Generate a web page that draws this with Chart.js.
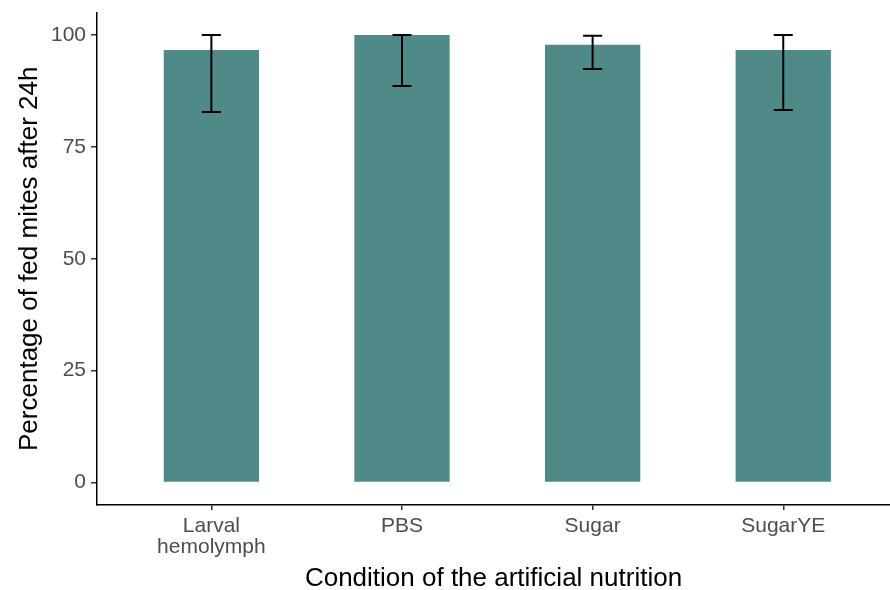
<!DOCTYPE html>
<html>
<head>
<meta charset="utf-8">
<script src="https://cdn.jsdelivr.net/npm/chart.js@4"></script>
<style>
  html, body { margin: 0; padding: 0; background: #ffffff; }
  #wrap { width: 890px; height: 590px; position: relative; }
</style>
</head>
<body>
<div id="wrap"><canvas id="c" width="890" height="590"></canvas></div>
<script>
// ---- data ----
const categories = ['Larval hemolymph', 'PBS', 'Sugar', 'SugarYE'];
const tickLabels = [['Larval', 'hemolymph'], 'PBS', 'Sugar', 'SugarYE'];
const values = [96.6, 100, 97.8, 96.6];
const errLow = [82.8, 88.6, 92.4, 83.2];
const errHigh = [100, 100, 99.8, 100];
const yTicks = [0, 25, 50, 75, 100];
const yTitle = 'Percentage of fed mites after 24h';
const xTitle = 'Condition of the artificial nutrition';

const FONT = "'Liberation Sans', Arial, sans-serif";
const barColor = '#508A88';

const errorBarPlugin = {
  id: 'errorBars',
  afterDatasetsDraw(chart) {
    const { ctx, scales: { x, y } } = chart;
    ctx.save();
    ctx.strokeStyle = '#000000';
    ctx.lineWidth = 2;
    ctx.lineCap = 'butt';
    categories.forEach((c, i) => {
      const cx = x.getPixelForValue(i + 1);
      const half = Math.abs(x.getPixelForValue(i + 1.05) - cx);
      const yl = y.getPixelForValue(errLow[i]);
      const yh = y.getPixelForValue(errHigh[i]);
      ctx.beginPath();
      ctx.moveTo(cx, yl); ctx.lineTo(cx, yh);
      ctx.moveTo(cx - half, yl); ctx.lineTo(cx + half, yl);
      ctx.moveTo(cx - half, yh); ctx.lineTo(cx + half, yh);
      ctx.stroke();
    });
    ctx.restore();
  }
};

new Chart(document.getElementById('c'), {
  type: 'bar',
  data: {
    datasets: [{
      data: values.map((v, i) => ({ x: i + 1, y: v })),
      backgroundColor: barColor,
      borderWidth: 0,
      barPercentage: 0.5,
      categoryPercentage: 1.0
    }]
  },
  options: {
    responsive: false,
    animation: false,
    devicePixelRatio: 1,
    layout: { padding: { top: 12.5, right: 0, bottom: 0, left: 0 } },
    plugins: { legend: { display: false }, tooltip: { enabled: false } },
    scales: {
      x: {
        type: 'linear',
        offset: false,
        min: 0.4,
        max: 4.56,
        afterBuildTicks(scale) { scale.ticks = categories.map((c, i) => ({ value: i + 1 })); },
        afterFit(scale) { scale.height = 85; scale.paddingLeft = 0; scale.paddingRight = 0; },
        ticks: {
          autoSkip: false,
          maxRotation: 0,
          padding: 6,
          color: '#4D4D4D',
          font: { family: FONT, size: 21, lineHeight: 1.0 },
          callback: (v) => tickLabels[Math.round(v) - 1]
        },
        grid: { display: true, offset: false, drawOnChartArea: false, drawTicks: true, tickLength: 5, color: '#333333', lineWidth: 1.5 },
        border: { display: true, color: '#000000', width: 1.5 },
        title: {
          display: true, text: xTitle, color: '#000000',
          font: { family: FONT, size: 26, lineHeight: 0.8 },
          padding: { top: 0, bottom: 0.5 }
        }
      },
      y: {
        type: 'linear',
        min: -5,
        max: 105,
        afterBuildTicks(scale) { scale.ticks = yTicks.map(v => ({ value: v })); },
        afterFit(scale) { scale.width = 97; scale.paddingTop = 0; scale.paddingBottom = 0; },
        ticks: {
          padding: 5,
          color: '#4D4D4D',
          font: { family: FONT, size: 21 }
        },
        grid: { display: true, drawOnChartArea: false, drawTicks: true, tickLength: 6, color: '#333333', lineWidth: 1.5 },
        border: { display: true, color: '#000000', width: 1.5 },
        title: {
          display: true, text: yTitle, color: '#000000',
          font: { family: FONT, size: 26, lineHeight: 1 },
          padding: { top: 17, bottom: 0 }
        }
      }
    }
  },
  plugins: [errorBarPlugin]
});
</script>
</body>
</html>
